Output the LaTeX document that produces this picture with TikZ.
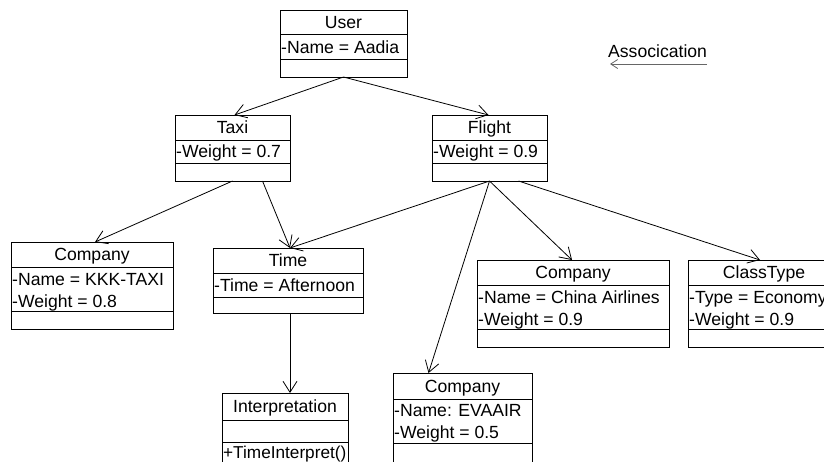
\documentclass[tikz,border=0pt]{standalone}
\usepackage{fontspec}
\setmainfont{Liberation Sans}
\usetikzlibrary{arrows.meta}

\tikzset{
  umlbox/.style={draw=black, line width=0.8pt, anchor=north west, inner sep=0pt, outer sep=0pt},
  sep/.style={draw=black, line width=0.8pt},
  classname/.style={anchor=base, inner sep=0pt, font=\fontsize{17.6}{21}\selectfont},
  attr/.style={anchor=base west, inner xsep=1pt, inner ysep=0pt, font=\fontsize{17.6}{21}\selectfont},
  assoc/.style={draw=black, line width=0.8pt, -{Straight Barb[length=11pt,width=14pt,line width=0.8pt]}},
  legendarrow/.style={draw=black!60, line width=0.8pt, -{Straight Barb[length=7pt,width=9pt,line width=0.8pt]}}
}

\begin{document}
\begin{tikzpicture}[x=1pt, y=-1pt]
  \useasboundingbox (0,0) rectangle (824,461);
  \clip (0,0) rectangle (824,461);

  % ---------- User ----------
  \node[umlbox, minimum width=127, minimum height=67] (user) at (280,10) {};
  \draw[sep] (280,34) -- (407,34);
  \draw[sep] (280,59) -- (407,59);
  \node[classname] (userT) at (343.5,28) {User};
  \node[attr] (userA) at (280,53) {-Name = Aadia};

  % ---------- Taxi ----------
  \node[umlbox, minimum width=115, minimum height=66] (taxi) at (175,115) {};
  \draw[sep] (175,140) -- (290,140);
  \draw[sep] (175,163) -- (290,163);
  \node[classname] (taxiT) at (232.5,133.5) {Taxi};
  \node[attr] (taxiA) at (175,157.5) {-Weight = 0.7};

  % ---------- Flight ----------
  \node[umlbox, minimum width=115, minimum height=66] (flight) at (432,115) {};
  \draw[sep] (432,140) -- (547,140);
  \draw[sep] (432,163) -- (547,163);
  \node[classname] (flightT) at (489.5,133.5) {Flight};
  \node[attr] (flightA) at (432,157.5) {-Weight = 0.9};

  % ---------- Company (taxi) ----------
  \node[umlbox, minimum width=162, minimum height=87] (compA) at (11,242) {};
  \draw[sep] (11,267) -- (173,267);
  \draw[sep] (11,311) -- (173,311);
  \node[classname] (compAT) at (92,260.5) {Company};
  \node[attr] (compA1) at (11,285) {-Name = KKK-TAXI};
  \node[attr] (compA2) at (11,307) {-Weight = 0.8};

  % ---------- Time ----------
  \node[umlbox, minimum width=150, minimum height=65] (time) at (213,248) {};
  \draw[sep] (213,273) -- (363,273);
  \draw[sep] (213,297) -- (363,297);
  \node[classname] (timeT) at (288,266.5) {Time};
  \node[attr] (timeA) at (213,291.5) {-Time = Afternoon};

  % ---------- Company (China Airlines) ----------
  \node[umlbox, minimum width=192, minimum height=87] (compB) at (477,260) {};
  \draw[sep] (477,285) -- (669,285);
  \draw[sep] (477,329) -- (669,329);
  \node[classname] (compBT) at (573,278.5) {Company};
  \node[attr] (compB1) at (477,303) {-Name = China Airlines};
  \node[attr] (compB2) at (477,325) {-Weight = 0.9};

  % ---------- ClassType (runs past the right edge) ----------
  \node[umlbox, minimum width=152, minimum height=87] (ctype) at (688,260) {};
  \draw[sep] (688,285) -- (840,285);
  \draw[sep] (688,329) -- (840,329);
  \node[classname] (ctypeT) at (764,278.5) {ClassType};
  \node[attr] (ctype1) at (688,303) {-Type = Economy};
  \node[attr] (ctype2) at (688,325) {-Weight = 0.9};

  % ---------- Interpretation ----------
  \node[umlbox, minimum width=126, minimum height=90] (interp) at (222,393) {};
  \draw[sep] (222,420) -- (348,420);
  \draw[sep] (222,442) -- (348,442);
  \node[classname] (interpT) at (285,412.5) {Interpretation};
  \node[attr, font=\fontsize{17.2}{21}\selectfont] (interpM) at (222,458) {+TimeInterpret()};

  % ---------- Company (EVAAIR) ----------
  \node[umlbox, minimum width=139, minimum height=110] (compC) at (393,373) {};
  \draw[sep] (393,399) -- (532,399);
  \draw[sep] (393,443) -- (532,443);
  \node[classname] (compCT) at (462.5,392.5) {Company};
  \node[attr] (compC1) at (393,416) {-Name: EVAAIR};
  \node[attr] (compC2) at (393,438) {-Weight = 0.5};

  % ---------- Associations ----------
  \draw[assoc] (user.south) -- ([xshift=2pt]taxi.north);
  \draw[assoc] (user.south) -- ([xshift=-1pt]flight.north);
  \draw[assoc] (taxi.south) -- ([xshift=3pt]compA.north);
  \draw[assoc] ([xshift=30pt]taxi.south) -- ([xshift=2pt]time.north);
  \draw[assoc] (flight.south) -- ([xshift=2pt]time.north);
  \draw[assoc] (flight.south) -- ([xshift=-34pt]compC.north);
  \draw[assoc] (flight.south) -- ([xshift=-1pt]compB.north);
  \draw[assoc] ([xshift=29pt]flight.south) -- ([xshift=-4pt]ctype.north);
  \draw[assoc] ([xshift=2pt]time.south) -- ([xshift=5pt]interp.north);

  % ---------- Legend ----------
  \node[anchor=base west, inner sep=0pt, font=\fontsize{17.6}{21}\selectfont] (legend) at (608,57) {Assocication};
  \coordinate (legR) at (707,64);
  \coordinate (legL) at (610,64);
  \draw[legendarrow] (legR) -- (legL);
\end{tikzpicture}
\end{document}
